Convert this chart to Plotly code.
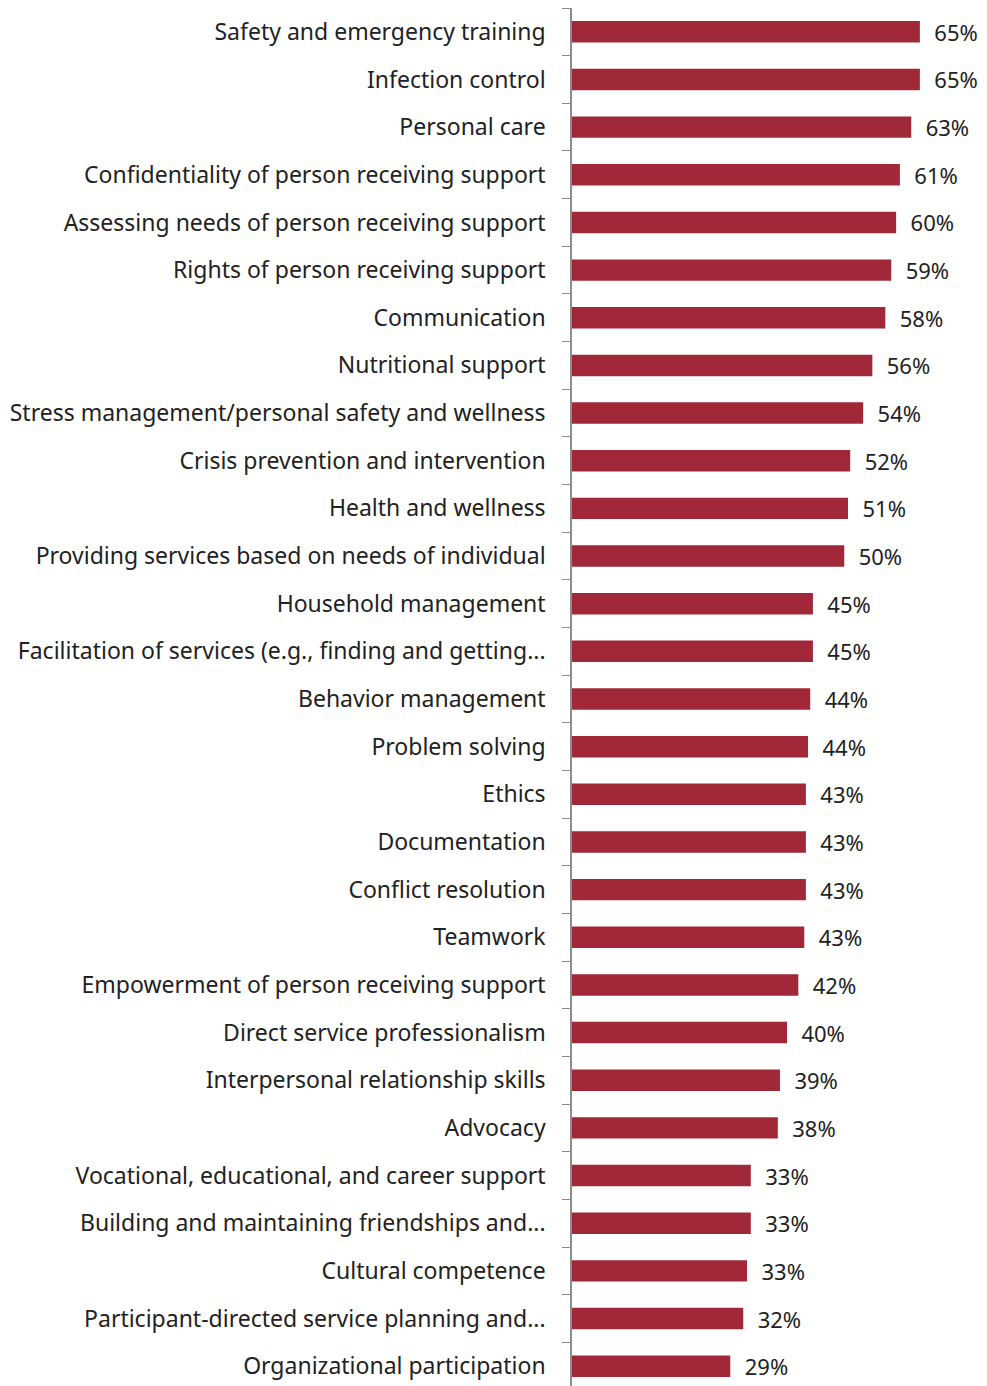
import plotly.graph_objects as go

# Share of respondents per training topic
topics = [
    "Safety and emergency training",
    "Infection control",
    "Personal care",
    "Confidentiality of person receiving support",
    "Assessing needs of person receiving support",
    "Rights of person receiving support",
    "Communication",
    "Nutritional support",
    "Stress management/personal safety and wellness",
    "Crisis prevention and intervention",
    "Health and wellness",
    "Providing services based on needs of individual",
    "Household management",
    "Facilitation of services (e.g., finding and getting...",
    "Behavior management",
    "Problem solving",
    "Ethics",
    "Documentation",
    "Conflict resolution",
    "Teamwork",
    "Empowerment of person receiving support",
    "Direct service professionalism",
    "Interpersonal relationship skills",
    "Advocacy",
    "Vocational, educational, and career support",
    "Building and maintaining friendships and...",
    "Cultural competence",
    "Participant-directed service planning and...",
    "Organizational participation",
]
shares = [64.4, 64.4, 62.8, 60.7, 60.0, 59.1, 58.0, 55.6, 53.9, 51.5, 51.1, 50.4,
          44.6, 44.6, 44.1, 43.7, 43.3, 43.3, 43.3, 43.0, 41.9, 39.8, 38.5, 38.1,
          33.1, 33.1, 32.4, 31.7, 29.3]
share_labels = [65, 65, 63, 61, 60, 59, 58, 56, 54, 52, 51, 50,
                45, 45, 44, 44, 43, 43, 43, 43, 42, 40, 39, 38,
                33, 33, 33, 32, 29]

fig = go.Figure(go.Bar(
    x=shares, y=topics, orientation='h',
    marker=dict(color='#A02838', line=dict(width=0)),
    text=[f"  {v}%" for v in share_labels],
    textposition='outside', cliponaxis=False, constraintext='none',
    textfont=dict(size=22, color='#222222'),
))

# page body adds an 8px margin, so the figure is sized to fill the rest
fig.update_layout(
    width=979, height=1382,
    margin=dict(l=564, r=5, t=0, b=0),
    plot_bgcolor='white', paper_bgcolor='white',
    font=dict(family='Noto Sans', size=23, color='#222222'),
    bargap=0.55, showlegend=False,
)
fig.update_xaxes(range=[0, 75.9], visible=False, automargin=False)
fig.update_yaxes(autorange='reversed', showline=True, linecolor='#8c8c8c', linewidth=1.5,
                 ticks='outside', ticklen=8, tickcolor='#8c8c8c', tickson='boundaries',
                 ticklabelstandoff=20, showgrid=False, automargin=False)

fig.write_html("out.html")
